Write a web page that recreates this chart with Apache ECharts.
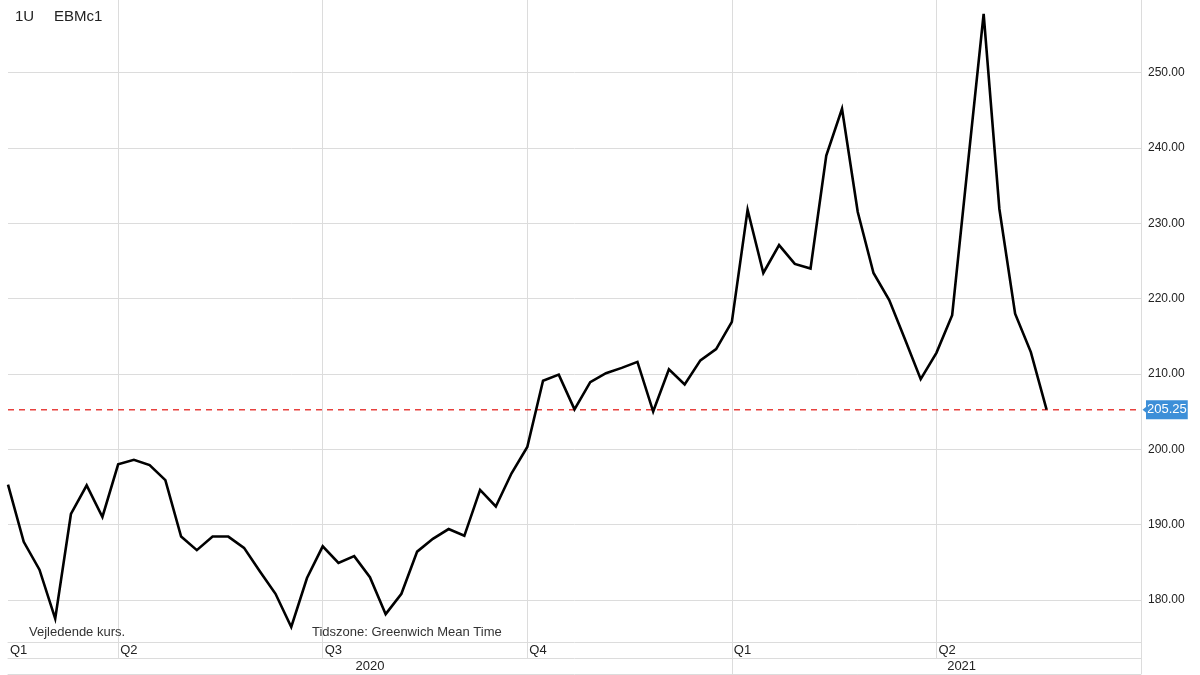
<!DOCTYPE html>
<html>
<head>
<meta charset="utf-8">
<script src="https://cdn.jsdelivr.net/npm/echarts@6/dist/echarts.min.js"></script>
<style>
  html, body { margin: 0; padding: 0; background: #fff; }
  #chart { width: 1200px; height: 675px; }
</style>
</head>
<body>
<div id="chart"></div>
<script>
// ---- data (weekly prices, first point mid-Feb 2020) ----
const prices = [
  195.3, 187.7, 184.0, 177.5, 191.4, 195.2, 191.0, 198.0, 198.6, 197.9,
  195.9, 188.4, 186.6, 188.4, 188.4, 186.9, 183.8, 180.8, 176.4, 182.9,
  187.1, 184.9, 185.8, 183.0, 178.1, 180.8, 186.4, 188.1, 189.4, 188.5,
  194.6, 192.4, 196.8, 200.3, 209.1, 209.9, 205.3, 208.9, 210.1, 210.8,
  211.6, 205.0, 210.6, 208.6, 211.8, 213.3, 216.9, 231.8, 223.4, 227.1,
  224.6, 224.0, 239.0, 245.2, 231.5, 223.4, 219.8, 214.6, 209.3, 212.8,
  217.8, 237.9, 257.8, 231.9, 218.0, 212.9, 205.25
];
const totalWeeks = 72;                       // axis span in weeks
const quarterLabels = ['Q1', 'Q2', 'Q3', 'Q4', 'Q1', 'Q2'];
const quarterStarts = [0, 7, 20, 33, 46, 59]; // week index of each quarter start
const yearLabels = ['2020', '2021'];
const yearStarts = [0, 46];
const yTicks = [180, 190, 200, 210, 220, 230, 240, 250];
const titleLeft = '1U';
const titleRight = 'EBMc1';
const noteLeft = 'Vejledende kurs.';
const noteRight = 'Tidszone: Greenwich Mean Time';

// ---- build ----
const FONT = '"Liberation Sans", Arial, Helvetica, sans-serif';
const GRID = '#dcdcdc';
const RED = '#e8423f';
const BLUE = '#3d8fd8';
const lastValue = prices[prices.length - 1];
const seriesData = prices.map((v, i) => [i, v]);
const lastLineData = [[0, lastValue], [totalWeeks, lastValue]];

const yearLabelPos = [
  (yearStarts[0] + yearStarts[1]) / 2,
  (yearStarts[1] + totalWeeks) / 2 + 1.6
];

const chart = echarts.init(document.getElementById('chart'), null, { renderer: 'canvas' });
const tStyle = (size, color) => ({ fontSize: size, fontWeight: 'normal', color: color, fontFamily: FONT });
chart.setOption({
  animation: false,
  backgroundColor: '#ffffff',
  textStyle: { fontFamily: FONT },
  title: [
    { text: titleLeft, left: 15, top: 9, padding: 0, textStyle: tStyle(15, '#222') },
    { text: titleRight, left: 54, top: 9, padding: 0, textStyle: tStyle(15, '#222') },
    { text: noteLeft, left: 29, top: 626, padding: 0, textStyle: tStyle(13, '#333') },
    { text: noteRight, left: 312, top: 626, padding: 0, textStyle: tStyle(13, '#333') }
  ],
  grid: { left: 8, right: 59, top: 0, bottom: 33, containLabel: false },
  xAxis: [
    {
      type: 'value', min: 0, max: totalWeeks, position: 'bottom',
      axisLine: { show: true, onZero: false, lineStyle: { color: GRID, width: 1 } },
      axisTick: { show: true, customValues: quarterStarts.slice(1).concat([totalWeeks]), length: 16, inside: false, lineStyle: { color: GRID, width: 1 } },
      splitLine: { show: true, lineStyle: { color: GRID, width: 1 } },
      axisLabel: {
        customValues: quarterStarts,
        formatter: v => quarterLabels[quarterStarts.indexOf(v)] || '',
        align: 'left', margin: 2, padding: [0, 0, 0, 2],
        color: '#222', fontSize: 13, fontFamily: FONT
      }
    },
    {
      type: 'value', min: 0, max: totalWeeks, position: 'bottom', offset: 16,
      axisLine: { show: true, onZero: false, lineStyle: { color: GRID, width: 1 } },
      axisTick: { show: true, customValues: yearStarts.slice(1).concat([totalWeeks]), length: 16, inside: false, lineStyle: { color: GRID, width: 1 } },
      splitLine: { show: false },
      axisLabel: {
        customValues: yearLabelPos,
        formatter: v => yearLabels[yearLabelPos.indexOf(v)] || '',
        align: 'center', margin: 2,
        color: '#222', fontSize: 13, fontFamily: FONT
      }
    },
    {
      type: 'value', min: 0, max: totalWeeks, position: 'bottom', offset: 32,
      axisLine: { show: true, onZero: false, lineStyle: { color: GRID, width: 1 } },
      axisTick: { show: false },
      splitLine: { show: false },
      axisLabel: { show: false }
    }
  ],
  yAxis: {
    type: 'value', position: 'right', min: 174.4, max: 259.65,
    axisLine: { show: false, onZero: false },
    axisTick: { show: false, customValues: yTicks },
    splitLine: { show: true, lineStyle: { color: GRID, width: 1 } },
    axisLabel: {
      customValues: yTicks,
      formatter: v => v.toFixed(2),
      margin: 7, color: '#222', fontSize: 12, fontFamily: FONT
    }
  },
  series: [
    {
      name: 'last',
      type: 'line',
      xAxisIndex: 0,
      data: lastLineData,
      showSymbol: false,
      symbol: 'none',
      color: RED,
      lineStyle: { color: RED, type: [6, 5], width: 1.5 },
      z: 2,
      endLabel: {
        show: true, distance: 5,
        formatter: () => lastValue.toFixed(2),
        backgroundColor: BLUE, color: '#fff',
        padding: [3, 1, 3, 1], fontSize: 13, fontFamily: FONT
      },
      markPoint: {
        silent: true,
        symbol: 'path://M10,0 L10,10 L0,5 Z',
        symbolSize: [5, 8],
        symbolOffset: [4, 0],
        itemStyle: { color: BLUE },
        label: { show: false },
        data: [{ coord: [totalWeeks, lastValue] }]
      }
    },
    {
      name: 'EBMc1',
      type: 'line',
      xAxisIndex: 0,
      data: seriesData,
      showSymbol: false,
      symbol: 'none',
      color: '#000',
      lineStyle: { color: '#000', width: 2.6, join: 'miter' },
      z: 3
    }
  ]
});
</script>
</body>
</html>
